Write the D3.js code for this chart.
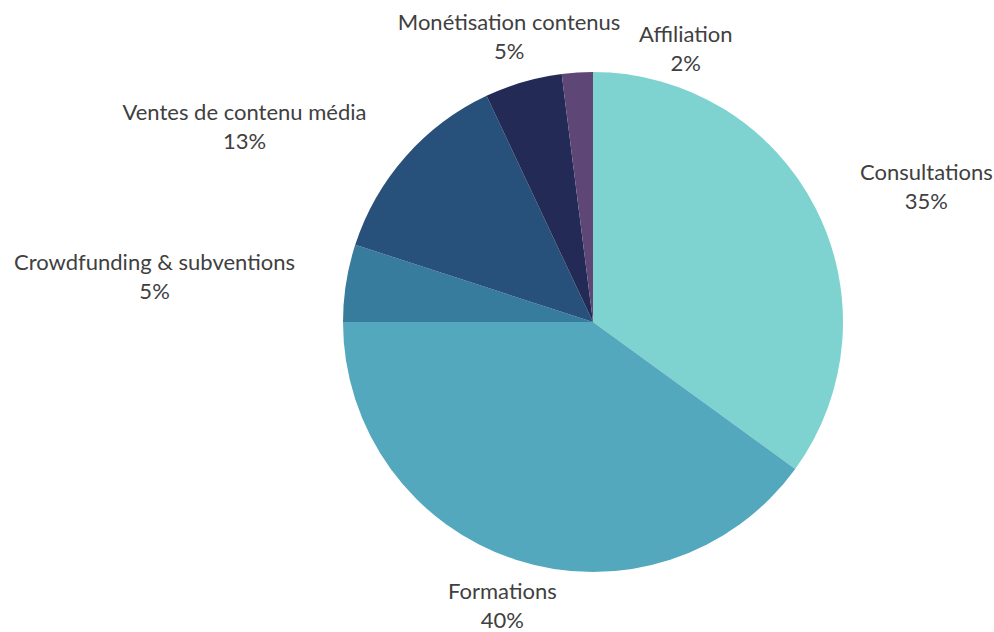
<!DOCTYPE html>
<html>
<head>
<meta charset="utf-8">
<script src="https://cdn.jsdelivr.net/npm/d3@7"></script>
<style>
  html, body { margin: 0; padding: 0; background: #ffffff; }
  svg { display: block; }
  text { font-family: Lato, "Open Sans", sans-serif; fill: #404040; }
</style>
</head>
<body>
<svg id="chart" width="994" height="632"></svg>
<script>
// Revenue split by source (percent)
const categories = ["Consultations", "Formations", "Crowdfunding & subventions",
                    "Ventes de contenu média", "Monétisation contenus", "Affiliation"];
const shares = [35, 40, 5, 13, 5, 2];
const sliceColors = ["#7ed3d1", "#54a8bd", "#377b9d", "#27517a", "#222a55", "#5e4677"];

// Hand-tuned label offsets from the default outside position
const labelShift = [[75, -10], [-1, 1], [-152, -7], [-131, -10], [-3, -14], [111, 9]];

const width = 994, height = 632;
const cx = 593, cy = 322, radius = 250;

const svg = d3.select("#chart");
const g = svg.append("g").attr("transform", `translate(${cx},${cy})`);

const color = d3.scaleOrdinal().domain(categories).range(sliceColors);

const pie = d3.pie().sort(null).value(d => d.value);
const data = categories.map((c, i) => ({ name: c, value: shares[i], i }));
const arcs = pie(data);

const arc = d3.arc().innerRadius(0).outerRadius(radius);

g.selectAll("path.slice")
  .data(arcs)
  .join("path")
  .attr("class", "slice")
  .attr("d", arc)
  .attr("fill", d => color(d.data.name));

const labelR = radius + 40;
const total = d3.sum(shares);

const labels = g.selectAll("text.label")
  .data(arcs)
  .join("text")
  .attr("class", "label")
  .attr("text-anchor", "middle")
  .attr("font-size", 22)
  .attr("transform", d => {
    const a = (d.startAngle + d.endAngle) / 2;
    const s = labelShift[d.data.i];
    const x = labelR * Math.sin(a) + s[0];
    const y = -labelR * Math.cos(a) + s[1];
    return `translate(${x},${y})`;
  });

labels.append("tspan")
  .attr("x", 0).attr("y", 0)
  .text(d => d.data.name);

labels.append("tspan")
  .attr("x", 0).attr("y", 29)
  .text(d => Math.round(d.data.value / total * 100) + "%");
</script>
</body>
</html>
